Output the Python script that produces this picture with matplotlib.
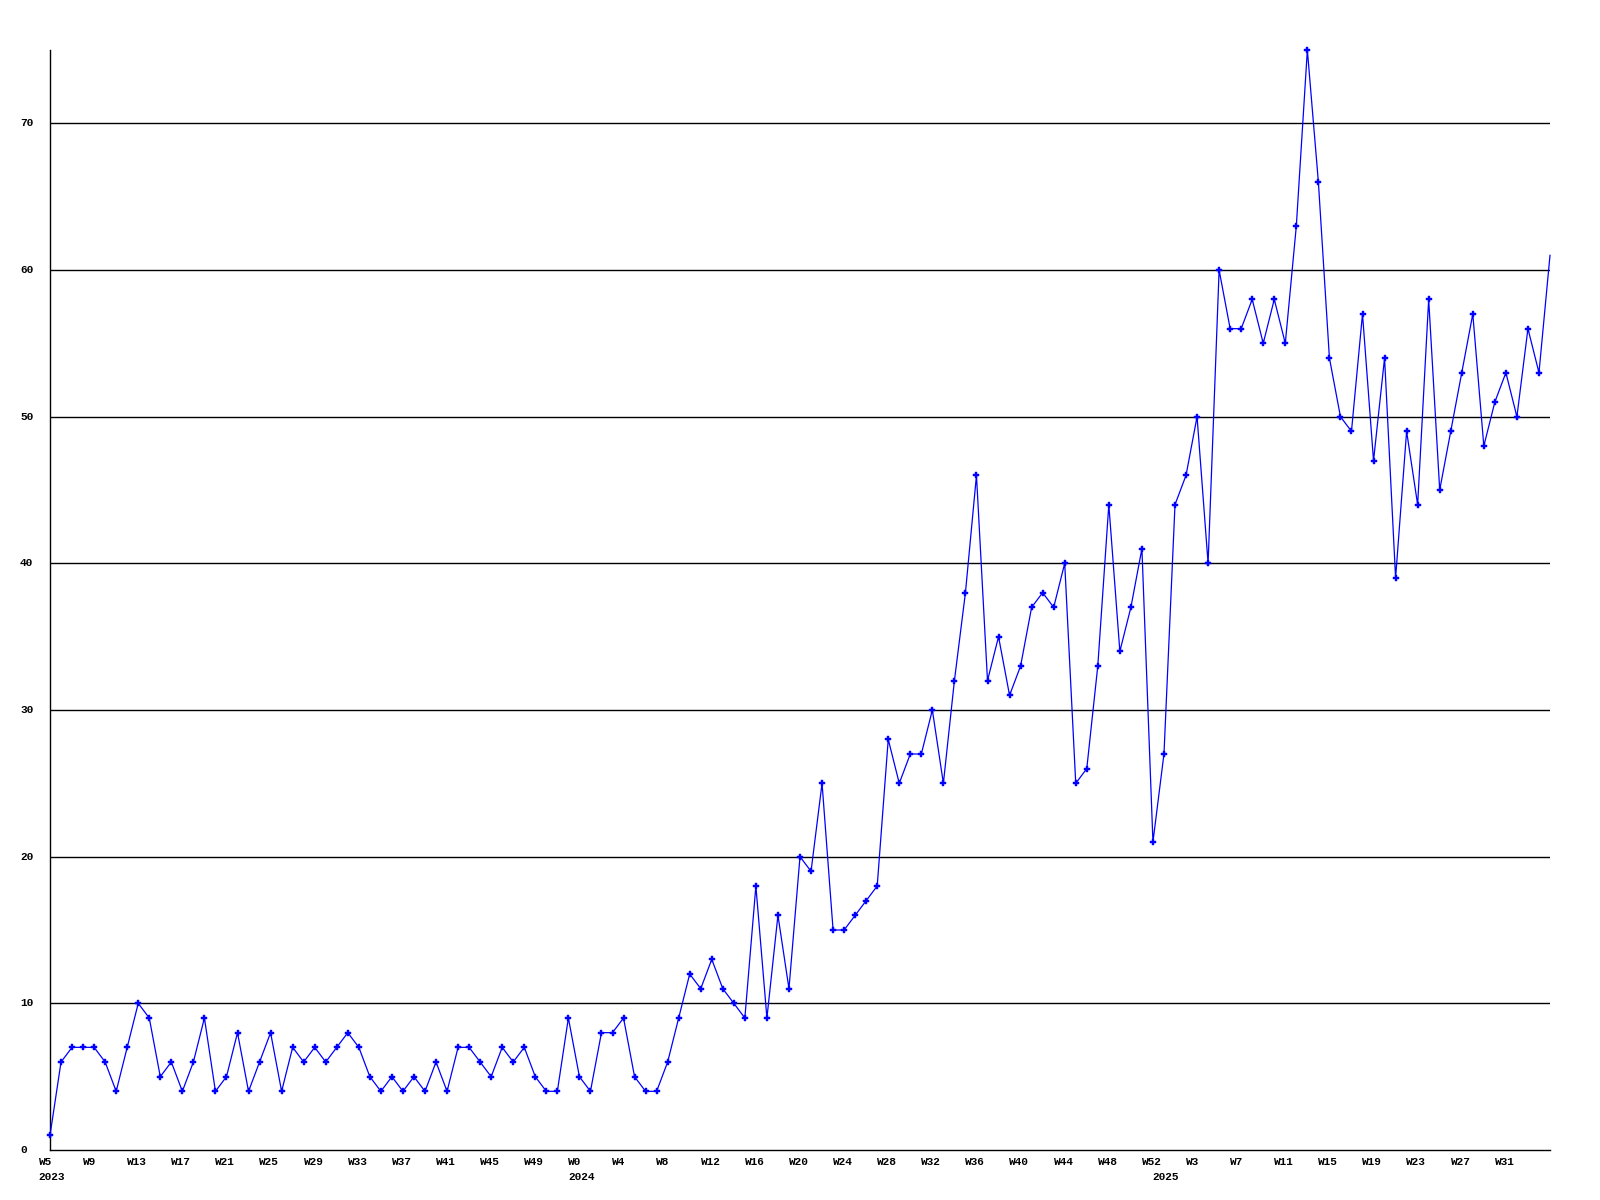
import matplotlib
matplotlib.use("Agg")
import matplotlib.pyplot as plt
import matplotlib.transforms as mtransforms

# ---- data ----
values_2023 = [1, 6, 7, 7, 7, 6, 4, 7, 10, 9, 5, 6, 4, 6, 9, 4, 5, 8, 4, 6, 8, 4, 7, 6,
               7, 6, 7, 8, 7, 5, 4, 5, 4, 5, 4, 6, 4, 7, 7, 6, 5, 7, 6, 7, 5, 4, 4, 9]  # W5..W52
values_2024 = [5, 4, 8, 8, 9, 5, 4, 4, 6, 9, 12, 11, 13, 11, 10, 9, 18, 9, 16, 11, 20, 19,
               25, 15, 15, 16, 17, 18, 28, 25, 27, 27, 30, 25, 32, 38, 46, 32, 35, 31, 33,
               37, 38, 37, 40, 25, 26, 33, 44, 34, 37, 41, 21]  # W0..W52
values_2025 = [27, 44, 46, 50, 40, 60, 56, 56, 58, 55, 58, 55, 63, 75, 66, 54, 50, 49, 57,
               47, 54, 39, 49, 44, 58, 45, 49, 53, 57, 48, 51, 53, 50, 56, 53, 61]  # W0..W35

week_labels = ["W5", "W9", "W13", "W17", "W21", "W25", "W29", "W33", "W37", "W41", "W45", "W49",
               "W0", "W4", "W8", "W12", "W16", "W20", "W24", "W28", "W32", "W36", "W40", "W44",
               "W48", "W52",
               "W3", "W7", "W11", "W15", "W19", "W23", "W27", "W31"]
year_labels = ["2023", "2024", "2025"]
y_ticks = [0, 10, 20, 30, 40, 50, 60, 70]

values = values_2023 + values_2024 + values_2025
x = list(range(len(values)))
year_starts = [0, len(values_2023), len(values_2023) + len(values_2024)]
label_positions = list(range(0, 4 * len(week_labels), 4))

# ---- figure ----
fig = plt.figure(figsize=(16, 12), dpi=100)
W, H = 1600, 1200
left_px, right_px, top_px, bottom_px = 50, 1550, 50, 1150
ax = fig.add_axes([left_px / W, 1 - bottom_px / H, (right_px - left_px) / W, (bottom_px - top_px) / H])

ax.plot(x, values, color="#0000ff", linewidth=0.9, marker="P", markersize=3.8,
        markeredgewidth=0.3, markeredgecolor="#0000ff", markerfacecolor="#0000ff",
        markevery=list(range(len(values) - 1)), zorder=3, clip_on=False)

ax.set_xlim(0, len(values) - 1)
ax.set_ylim(0, 75)

for v in y_ticks[1:]:
    ax.axhline(v, color="black", linewidth=1.0, zorder=1)

for s in ["top", "right"]:
    ax.spines[s].set_visible(False)
for s in ["left", "bottom"]:
    ax.spines[s].set_color("black")
    ax.spines[s].set_linewidth(1.0)

font = dict(family="Liberation Mono", weight="bold", size=8)

# y tick labels: left-aligned at x=20 px
ax.set_yticks([])
ax.set_xticks([])
ylab_trans = mtransforms.blended_transform_factory(fig.transFigure, ax.transData)
for v in y_ticks:
    ax.text(20 / W, v, str(v), transform=ylab_trans, ha="left", va="center", **font)

# x labels: left-aligned, offset left of point
off = mtransforms.ScaledTranslation(-11.2 / 100, 0, fig.dpi_scale_trans)
xlab_trans = mtransforms.blended_transform_factory(ax.transData, fig.transFigure) + off
for pos, lab in zip(label_positions, week_labels):
    ax.text(pos, 1 - 1162 / H, lab, transform=xlab_trans, ha="left", va="center", **font)
for pos, lab in zip(year_starts, year_labels):
    ax.text(pos, 1 - 1177 / H, lab, transform=xlab_trans, ha="left", va="center", **font)

fig.savefig("out.png", dpi=100, facecolor="white")
